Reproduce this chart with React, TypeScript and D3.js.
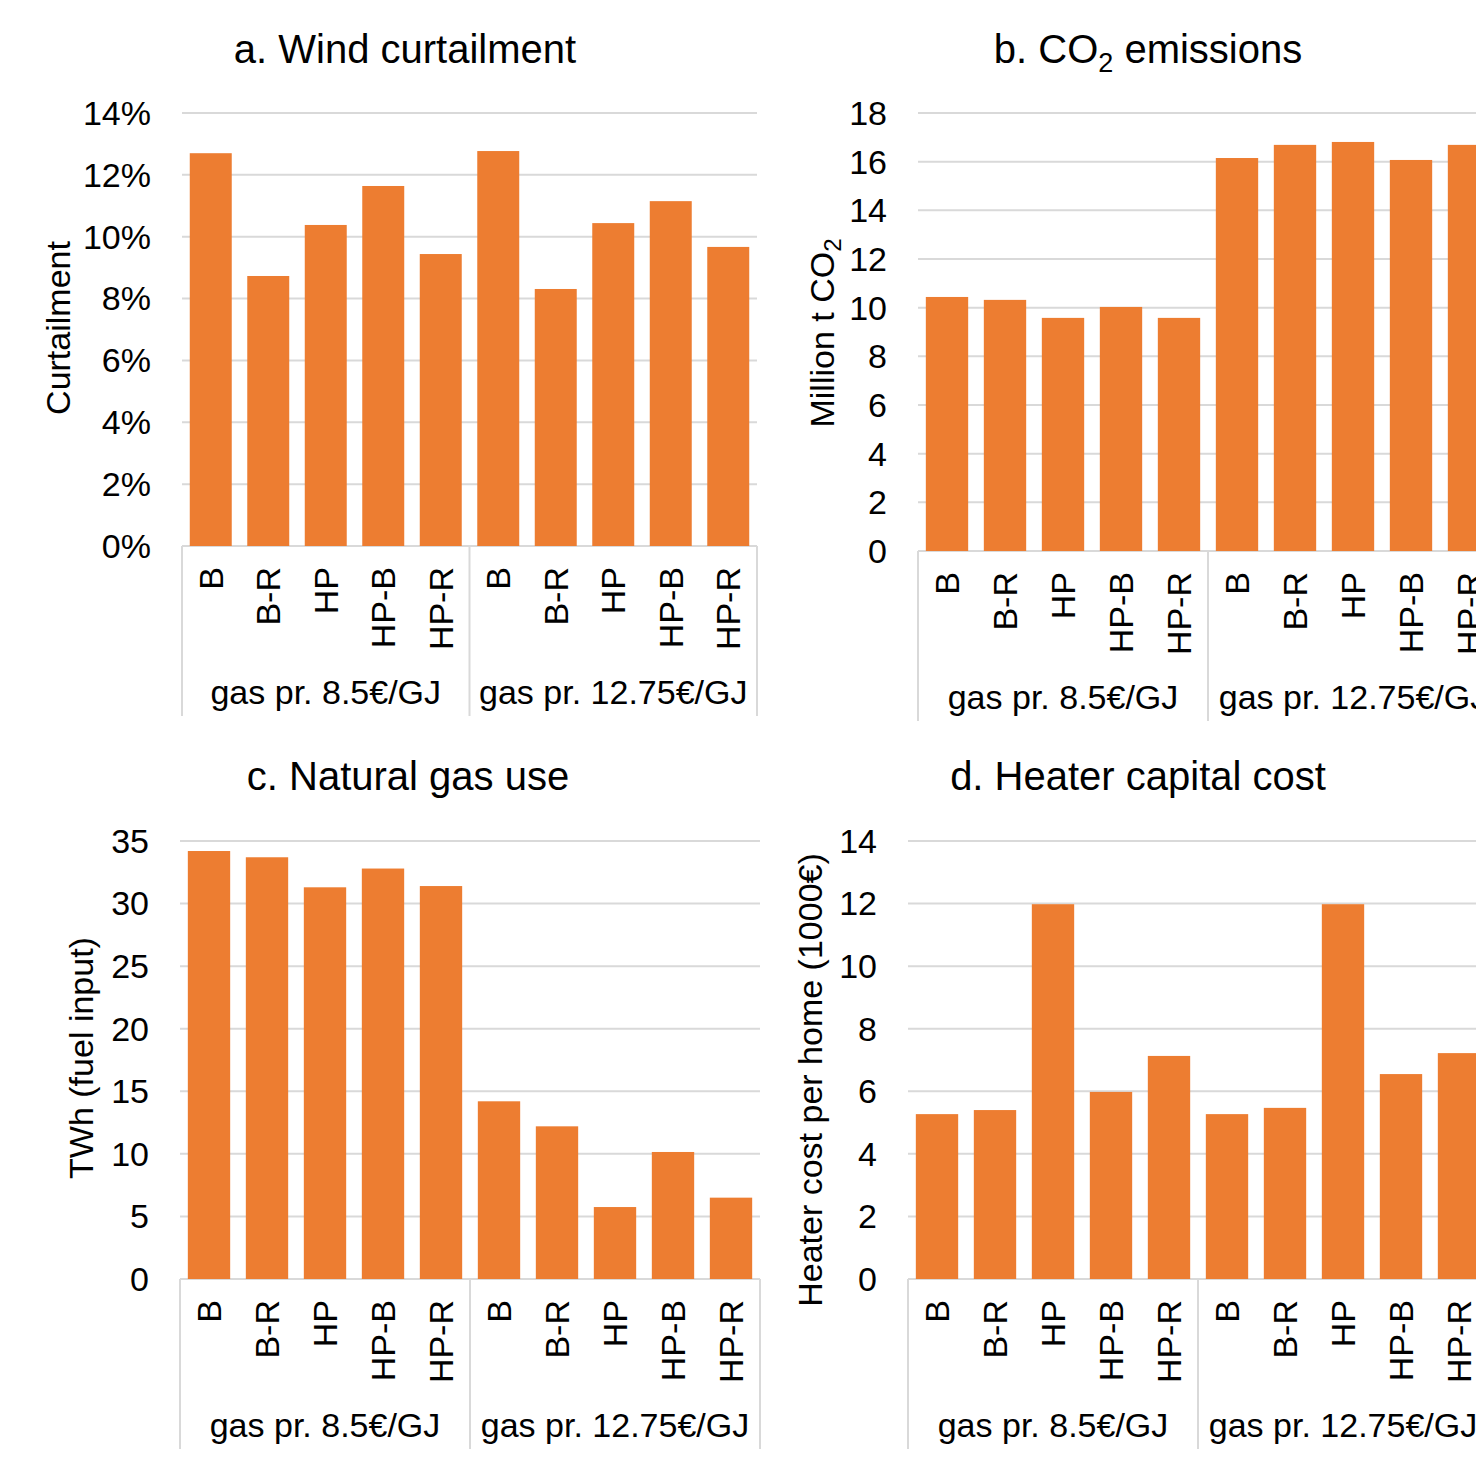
import * as d3 from 'd3'

const categories = ['B', 'B-R', 'HP', 'HP-B', 'HP-R']
const groups = ['gas pr. 8.5€/GJ', 'gas pr. 12.75€/GJ']

// values per bar, first 5 = 8.5€/GJ, last 5 = 12.75€/GJ
const curtailment = [12.7, 8.73, 10.38, 11.64, 9.44, 12.77, 8.31, 10.44, 11.15, 9.67]
const co2 = [10.44, 10.32, 9.58, 10.03, 9.58, 16.15, 16.69, 16.81, 16.07, 16.69]
const gasUse = [34.2, 33.7, 31.3, 32.8, 31.4, 14.2, 12.2, 5.75, 10.15, 6.5]
const heaterCost = [5.27, 5.4, 11.98, 5.98, 7.13, 5.27, 5.47, 11.98, 6.55, 7.22]

const ticksA = [0, 2, 4, 6, 8, 10, 12, 14]
const ticksB = [0, 2, 4, 6, 8, 10, 12, 14, 16, 18]
const ticksC = [0, 5, 10, 15, 20, 25, 30, 35]
const ticksD = [0, 2, 4, 6, 8, 10, 12, 14]

const FONT = '"Liberation Sans", Arial, sans-serif'
const ORANGE = '#ED7D31'
const GRID = '#d9d9d9'
const FS = 34

interface PanelProps {
  values: number[]
  ticks: number[]
  tickFormat: (v: number) => string
  left: number
  right: number
  top: number
  bottom: number
  title: React.ReactNode
  titleX: number
  titleY: number
  yTitle: React.ReactNode
  yTitleX: number
  yTitleY: number
}

function Panel({
  values,
  ticks,
  tickFormat,
  left,
  right,
  top,
  bottom,
  title,
  titleX,
  titleY,
  yTitle,
  yTitleX,
  yTitleY,
}: PanelProps) {
  const keys = groups.flatMap((g) => categories.map((c) => `${g}|${c}`))
  const x = d3.scaleBand<string>().domain(keys).range([left, right]).paddingInner(0.27).paddingOuter(0.135)
  const gx = d3.scaleBand<string>().domain(groups).range([left, right])
  const y = d3
    .scaleLinear()
    .domain([0, d3.max(ticks) as number])
    .range([bottom, top])
  const sepBottom = bottom + 170

  return (
    <g fontFamily={FONT} fill="#000">
      <text x={titleX} y={titleY} textAnchor="middle" fontSize={40}>
        {title}
      </text>

      {/* gridlines */}
      {ticks.map((t) => (
        <line key={t} x1={left} x2={right} y1={y(t)} y2={y(t)} stroke={GRID} strokeWidth={2} />
      ))}
      {ticks.map((t) => (
        <text key={'l' + t} x={left - 31} y={y(t) + FS * 0.35} textAnchor="end" fontSize={FS}>
          {tickFormat(t)}
        </text>
      ))}

      {/* bars */}
      {values.map((v, i) => (
        <rect
          key={i}
          x={x(keys[i])}
          y={y(v)}
          width={x.bandwidth()}
          height={y(0) - y(v)}
          fill={ORANGE}
        />
      ))}

      {/* category separators */}
      {[left, left + gx.bandwidth(), right].map((sx, i) => (
        <line key={'s' + i} x1={sx} x2={sx} y1={bottom} y2={sepBottom} stroke={GRID} strokeWidth={2} />
      ))}

      {keys.map((k) => {
        const cx = (x(k) as number) + x.bandwidth() / 2
        const cy = bottom + 21
        return (
          <text
            key={'c' + k}
            transform={`translate(${cx},${cy}) rotate(-90)`}
            textAnchor="end"
            dy="0.35em"
            fontSize={FS}
          >
            {k.split('|')[1]}
          </text>
        )
      })}

      {groups.map((g) => (
        <text
          key={g}
          x={(gx(g) as number) + gx.bandwidth() / 2}
          y={bottom + 158}
          textAnchor="middle"
          fontSize={FS}
        >
          {g}
        </text>
      ))}

      <text transform={`translate(${yTitleX},${yTitleY}) rotate(-90)`} textAnchor="middle" fontSize={FS}>
        {yTitle}
      </text>
    </g>
  )
}

export default function App() {
  return (
    <svg
      width={1476}
      height={1458}
      style={{ position: 'absolute', left: 0, top: 0, background: '#fff', overflow: 'hidden' }}
    >
      <rect width={1476} height={1458} fill="#fff" />
      <Panel
        values={curtailment}
        ticks={ticksA}
        tickFormat={(v) => `${v}%`}
        left={182}
        right={757}
        top={113}
        bottom={546}
        title="a. Wind curtailment"
        titleX={405}
        titleY={63}
        yTitle="Curtailment"
        yTitleX={70}
        yTitleY={328}
      />
      <Panel
        values={co2}
        ticks={ticksB}
        tickFormat={(v) => `${v}`}
        left={918}
        right={1498}
        top={113}
        bottom={551}
        title={
          <>
            b. CO
            <tspan fontSize={27} dy={9}>
              2
            </tspan>
            <tspan dy={-9}> emissions</tspan>
          </>
        }
        titleX={1148}
        titleY={63}
        yTitle={
          <>
            Million t CO
            <tspan fontSize={24} dy={7}>
              2
            </tspan>
          </>
        }
        yTitleX={834}
        yTitleY={333}
      />
      <Panel
        values={gasUse}
        ticks={ticksC}
        tickFormat={(v) => `${v}`}
        left={180}
        right={760}
        top={841}
        bottom={1279}
        title="c. Natural gas use"
        titleX={408}
        titleY={790}
        yTitle="TWh (fuel input)"
        yTitleX={93}
        yTitleY={1058}
      />
      <Panel
        values={heaterCost}
        ticks={ticksD}
        tickFormat={(v) => `${v}`}
        left={908}
        right={1488}
        top={841}
        bottom={1279}
        title="d. Heater capital cost"
        titleX={1138}
        titleY={790}
        yTitle="Heater cost per home (1000€)"
        yTitleX={822}
        yTitleY={1080}
      />
    </svg>
  )
}
